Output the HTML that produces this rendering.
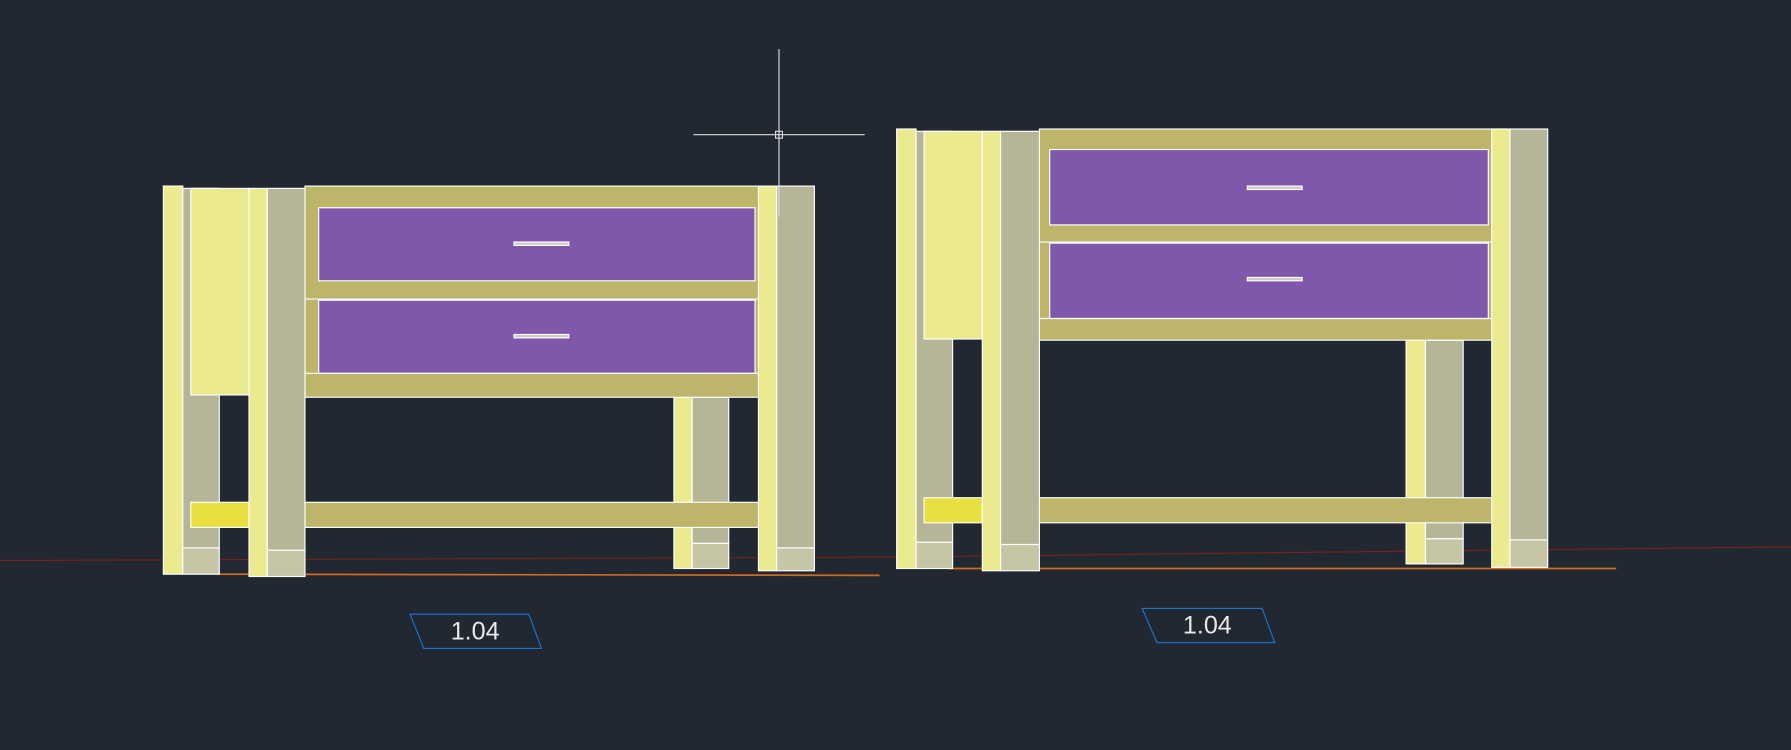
<!DOCTYPE html>
<html><head><meta charset="utf-8"><style>
html,body{margin:0;padding:0;background:#212831;width:1791px;height:750px;overflow:hidden}
svg{display:block}
</style></head><body>
<svg width="1791" height="750" viewBox="0 0 1568 657" preserveAspectRatio="none" xmlns="http://www.w3.org/2000/svg">
<rect width="1568" height="657" fill="#212831"/>
<line x1="0" y1="491" x2="780" y2="488" stroke="#7a1f1f" stroke-width="1"/>
<line x1="780" y1="488" x2="1568" y2="479" stroke="#7a1f1f" stroke-width="1"/>
<line x1="190" y1="503" x2="770" y2="504" stroke="#d2691e" stroke-width="1.5"/>
<line x1="830" y1="498" x2="1415" y2="498" stroke="#d2691e" stroke-width="1.5"/>

<g stroke="#ffffff" stroke-width="1">
<!-- LEFT CABINET -->
<rect x="143" y="163" width="17" height="340" fill="#ecea8f"/>
<rect x="160" y="165" width="32" height="315" fill="#b5b597"/>
<rect x="160" y="480" width="32" height="23" fill="#c6c6a6"/>
<rect x="167" y="165" width="51" height="181" fill="#ecea8f"/>
<rect x="590" y="348" width="16" height="150" fill="#ecea8f"/>
<rect x="606" y="348" width="32" height="128" fill="#b5b597"/>
<rect x="606" y="476" width="32" height="22" fill="#c6c6a6"/>
<rect x="167" y="440" width="51" height="22" fill="#e8e040"/>
<rect x="267" y="440" width="410" height="22" fill="#bdb56a"/>
<rect x="267" y="163" width="410" height="185" fill="#bdb56a"/>
<rect x="279" y="182" width="382" height="64" fill="#7f58ab"/>
<rect x="279" y="263" width="382" height="64" fill="#7f58ab"/>
<line x1="267" y1="262" x2="677" y2="262"/>
<line x1="267" y1="327" x2="677" y2="327"/>
<rect x="218" y="165" width="16" height="340" fill="#ecea8f"/>
<rect x="234" y="165" width="33" height="317" fill="#b5b597"/>
<rect x="234" y="482" width="33" height="23" fill="#c6c6a6"/>
<rect x="664" y="163" width="16" height="337" fill="#ecea8f"/>
<rect x="680" y="163" width="33" height="317" fill="#b5b597"/>
<rect x="680" y="480" width="33" height="20" fill="#c6c6a6"/>
<rect x="450" y="212" width="48" height="3" fill="#cccccc"/>
<rect x="450" y="293" width="48" height="3" fill="#cccccc"/>

<!-- RIGHT CABINET -->
<rect x="785" y="113" width="17" height="385" fill="#ecea8f"/>
<rect x="802" y="115" width="32" height="360" fill="#b5b597"/>
<rect x="802" y="475" width="32" height="23" fill="#c6c6a6"/>
<rect x="809" y="115" width="51" height="182" fill="#ecea8f"/>
<rect x="1231" y="298" width="17" height="196" fill="#ecea8f"/>
<rect x="1248" y="298" width="33" height="174" fill="#b5b597"/>
<rect x="1248" y="472" width="33" height="22" fill="#c6c6a6"/>
<rect x="809" y="436" width="51" height="22" fill="#e8e040"/>
<rect x="910" y="436" width="409" height="22" fill="#bdb56a"/>
<rect x="910" y="113" width="409" height="185" fill="#bdb56a"/>
<rect x="919" y="131" width="384" height="66" fill="#7f58ab"/>
<rect x="919" y="213" width="384" height="66" fill="#7f58ab"/>
<line x1="910" y1="212" x2="1319" y2="212"/>
<line x1="910" y1="279" x2="1319" y2="279"/>
<rect x="860" y="115" width="16" height="385" fill="#ecea8f"/>
<rect x="876" y="115" width="34" height="362" fill="#b5b597"/>
<rect x="876" y="477" width="34" height="23" fill="#c6c6a6"/>
<rect x="1306" y="113" width="16" height="384" fill="#ecea8f"/>
<rect x="1322" y="113" width="33" height="360" fill="#b5b597"/>
<rect x="1322" y="473" width="33" height="24" fill="#c6c6a6"/>
<rect x="1092" y="163" width="48" height="3" fill="#cccccc"/>
<rect x="1092" y="243" width="48" height="3" fill="#cccccc"/>
</g>

<g stroke="#dddddd" stroke-width="1">
<line x1="682" y1="43" x2="682" y2="190"/>
<line x1="607" y1="118" x2="757" y2="118"/>
<rect x="679" y="115" width="6" height="6" fill="none"/>
</g>

<polygon points="359,538 463,538 474,568 371,568" fill="none" stroke="#1e73d2" stroke-width="1"/>
<text x="416" y="560" fill="#e8e8e8" font-family="Liberation Sans Narrow, Liberation Sans, sans-serif" font-size="22" text-anchor="middle">1.04</text>
<polygon points="1000,533 1105,533 1116,563 1013,563" fill="none" stroke="#1e73d2" stroke-width="1"/>
<text x="1057" y="555" fill="#e8e8e8" font-family="Liberation Sans Narrow, Liberation Sans, sans-serif" font-size="22" text-anchor="middle">1.04</text>
</svg>
</body></html>
